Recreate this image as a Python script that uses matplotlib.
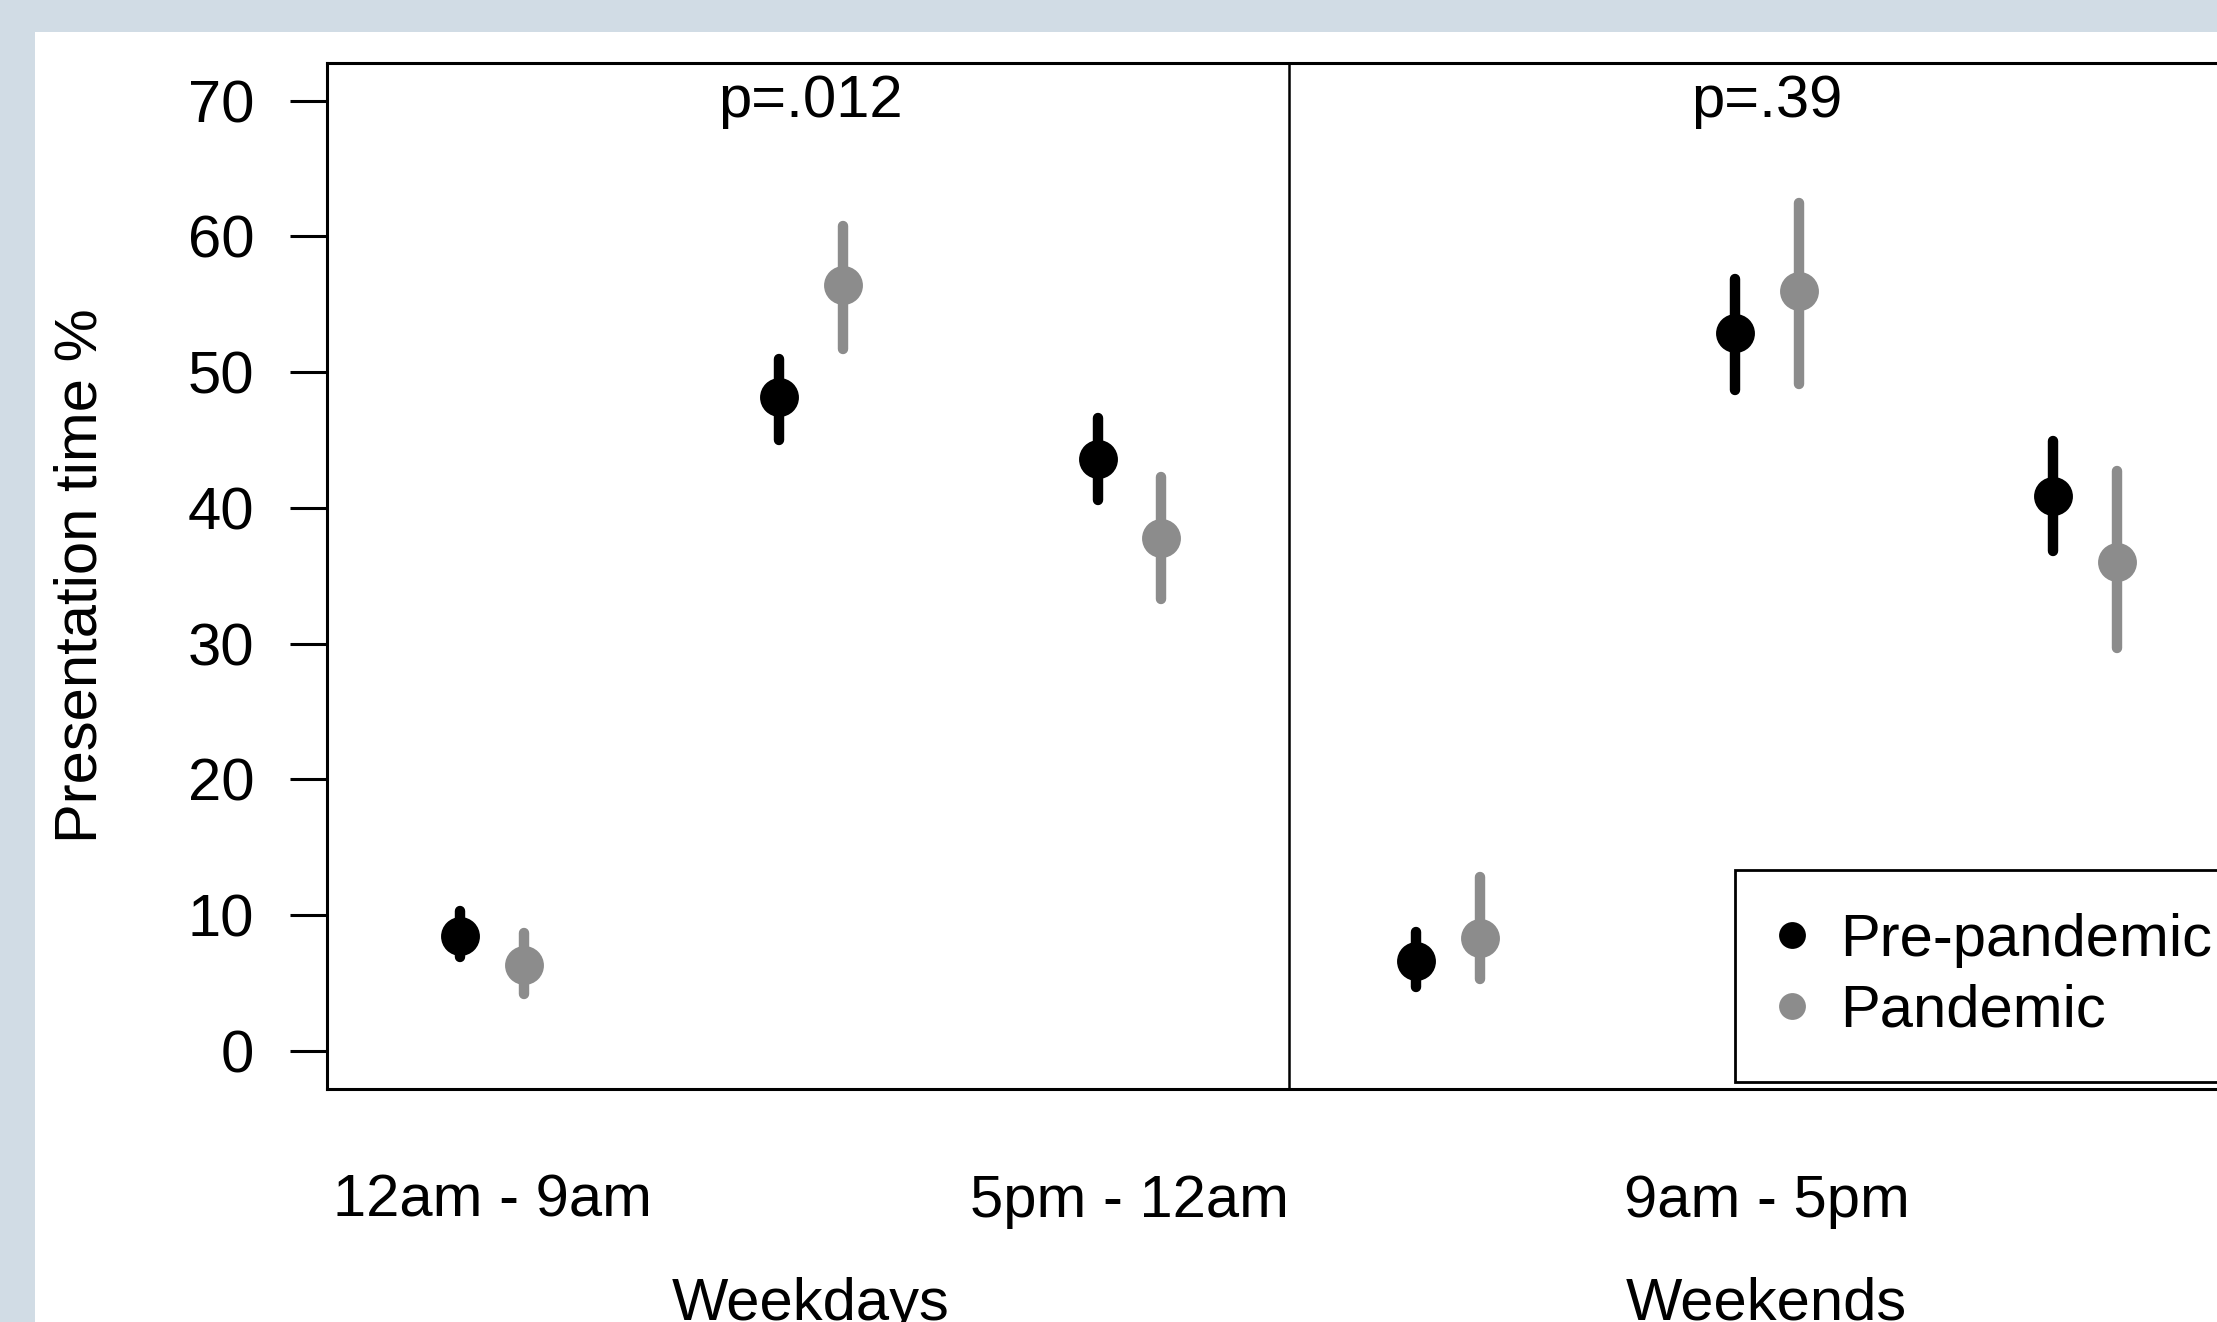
import matplotlib
matplotlib.use("Agg")
import matplotlib.pyplot as plt
from matplotlib.patches import Rectangle
import numpy as np

# ---- data ----
time_labels = ["12am - 9am", "9am - 5pm", "5pm - 12am",
               "12am - 9am", "9am - 5pm", "5pm - 12am"]
shown_ticks = [0, 2, 4]          # labels R kept (others dropped for overlap)
panels = ["Weekdays", "Weekends"]
p_values = ["p=.012", "p=.39"]
series = ["Pre-pandemic", "Pandemic"]

pre_mean = [8.5, 48.2, 43.6, 6.6, 52.9, 40.9]
pre_lo   = [6.9, 45.0, 40.6, 4.7, 48.7, 36.8]
pre_hi   = [10.3, 51.0, 46.6, 8.8, 56.9, 44.9]
pan_mean = [6.3, 56.4, 37.8, 8.3, 56.0, 36.0]
pan_lo   = [4.2, 51.7, 33.3, 5.3, 49.1, 29.7]
pan_hi   = [8.7, 60.8, 42.3, 12.8, 62.5, 42.7]

yticks = [0, 10, 20, 30, 40, 50, 60, 70]

# ---- style ----
plt.rcParams['font.family'] = ['Liberation Sans', 'DejaVu Sans']
FS = 43
BLACK = "#000000"
GRAY = "#8c8c8c"

W, H = 2217, 1322
fig = plt.figure(figsize=(W / 100, H / 100), dpi=100)
fig.patch.set_facecolor("#d1dce5")
fig.patches.append(Rectangle((35 / W, 0), 1 - 35 / W, 1 - 32 / H,
                             transform=fig.transFigure, facecolor="white",
                             edgecolor="none", zorder=-10))

left_px, right_px, top_px, bot_px = 326.5, 2251, 62.7, 1089
ax = fig.add_axes([left_px / W, 1 - bot_px / H,
                   (right_px - left_px) / W, (bot_px - top_px) / H])
ax.set_facecolor("white")

x = np.arange(1, 7)
off = 0.1
ax.vlines(x - off, pre_lo, pre_hi, colors=BLACK, linewidth=7.5, capstyle='round', zorder=3)
ax.vlines(x + off, pan_lo, pan_hi, colors=GRAY, linewidth=7.5, capstyle='round', zorder=3)
ax.plot(x - off, pre_mean, 'o', color=BLACK, ms=28, mec=BLACK, mew=0, label=series[0], zorder=4)
ax.plot(x + off, pan_mean, 'o', color=GRAY, ms=28, mec=GRAY, mew=0, label=series[1], zorder=4)

ax.set_xlim(0.48, 6.52)
ax.set_ylim(-2.8, 72.8)
ax.axvline(3.5, color=BLACK, linewidth=1.8)

for s in ax.spines.values():
    s.set_linewidth(2.2)
    s.set_color(BLACK)

ax.set_yticks(yticks)
ax.set_yticklabels([str(v) for v in yticks], fontsize=FS)
ax.tick_params(axis='y', length=26.6, width=2.2, pad=25.5, right=False)
ax.set_xticks([x[i] for i in shown_ticks])
ax.set_xticklabels([time_labels[i] for i in shown_ticks], fontsize=FS)
ax.tick_params(axis='x', length=0, pad=61, top=False)

ax.set_ylabel("Presentation time %", fontsize=FS)
ax.yaxis.set_label_coords((80.6 - left_px) / (right_px - left_px), 0.5)
ax.yaxis.label.set_verticalalignment('center')

# p-values and panel names
for i, (pname, pv) in enumerate(zip(panels, p_values)):
    cx = 2 + 3 * i
    ax.text(cx, (bot_px - 117) / (bot_px - top_px), pv, fontsize=FS,
            ha='center', va='baseline', transform=ax.get_xaxis_transform())
    ax.text(cx, (bot_px - 1320) / (bot_px - top_px), pname, fontsize=FS,
            ha='center', va='baseline', transform=ax.get_xaxis_transform(),
            clip_on=False)

leg = ax.legend(loc='lower left', bbox_to_anchor=(0.732, 0.0068),
                fontsize=FS, markerscale=0.69, frameon=True, fancybox=False,
                edgecolor=BLACK, framealpha=1, borderpad=0.725,
                labelspacing=0.26, handlelength=0.44, handletextpad=0.585,
                borderaxespad=0)
leg.get_frame().set_linewidth(2.0)

fig.savefig("out.png", dpi=100, facecolor=fig.get_facecolor())
